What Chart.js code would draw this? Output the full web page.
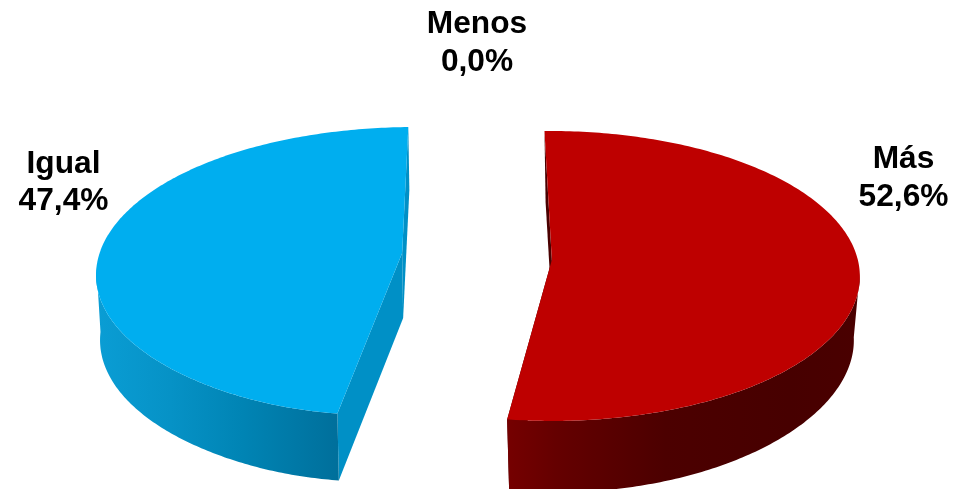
<!DOCTYPE html>
<html>
<head>
<meta charset="utf-8">
<style>
html,body{margin:0;padding:0;background:#fff;}
#wrap{width:965px;height:489px;}
canvas{display:block;}
</style>
<script src="https://cdn.jsdelivr.net/npm/chart.js@4"></script>
</head>
<body>
<div id="wrap"><canvas id="c" width="965" height="489"></canvas></div>
<script>
const categories = ['Más', 'Menos', 'Igual'];
const values = [52.6, 0.0, 47.4];
const topColors = ['#be0000', '#c8c8c8', '#00aeef'];
const labelAnchors = [[903.5, 168], [477, 33], [63.5, 172.5]];

/* Perspective view of each slice: top face, then bottom face of the wall */
const views = [
  { rx:308, ry:145, y0:16, s:1, w:0, e:-1, rx2:301, ry2:145, p2:.05, dy2:80, apexDy:65,
    wall:'#4a0000', rim:[[0,'#760000'],[.15,'#640000'],[.45,'#4c0000'],[.8,'#470000'],[1,'#4a0000']], rimX:[505,860] },
  null,
  { rx:306, ry:144, y0:18, s:-8.5, w:-8, e:-5, rx2:303, ry2:146, p2:0, dy2:83, apexDy:65,
    wall:'#0090c6', rim:[[0,'#0a9dd4'],[.3,'#0692c6'],[.6,'#0084b4'],[1,'#006f9b']], rimX:[98,339] }
];

function apex(arc) {
  const mid = (arc.startAngle + arc.endAngle) / 2;
  const off = arc.options.offset;
  return [arc.x + off * Math.cos(mid), arc.y + off * Math.sin(mid) * 0.72];
}

function project(arc, view, angle, depth) {
  const [ax, ay] = apex(arc);
  const u = Math.cos(angle), v = Math.sin(angle);
  const skew = view.s * v + view.w * Math.pow(v, 9) + view.e * Math.pow(v, 8);
  if (!depth) return [ax + view.rx * u + skew, ay + view.y0 + view.ry * v];
  return [ax + 1 + view.rx2 * u + skew,
          ay + view.dy2 + view.ry2 * v / (1 - view.p2 * v)];
}

function angles(arc) {
  const list = [], n = 240;
  for (let i = 0; i <= n; i++) list.push(arc.startAngle + (arc.endAngle - arc.startAngle) * i / n);
  return list;
}

function fillPoly(ctx, pts, fill) {
  ctx.beginPath();
  pts.forEach((p, i) => i ? ctx.lineTo(p[0], p[1]) : ctx.moveTo(p[0], p[1]));
  ctx.closePath();
  ctx.fillStyle = fill;
  ctx.fill();
}

const pie3d = {
  id: 'pie3d',
  beforeDatasetDraw(chart) {
    const ctx = chart.ctx;
    const meta = chart.getDatasetMeta(0);
    meta.data.forEach((arc, i) => {
      const view = views[i];
      if (!view || arc.circumference === 0) return;
      const list = angles(arc);
      const top = list.map(a => project(arc, view, a, 0));
      const bot = list.map(a => project(arc, view, a, 1));
      const apexT = apex(arc);
      const apexB = [apexT[0] + 1, apexT[1] + view.apexDy];
      const n = top.length - 1;
      const ends = [[top[0], bot[0]], [top[n], bot[n]]]
        .sort((a, b) => a[0][1] - b[0][1]);
      ends.forEach(([t, b]) => fillPoly(ctx, [t, apexT, apexB, b], view.wall));
      const g = ctx.createLinearGradient(view.rimX[0], 0, view.rimX[1], 0);
      view.rim.forEach(([o, col]) => g.addColorStop(o, col));
      const near = list.map((a, k) => k).filter(k => Math.sin(list[k]) > -0.03);
      const rimTop = near.map(k => top[k]), rimBot = near.map(k => bot[k]);
      fillPoly(ctx, rimTop.concat(rimBot.reverse()), g);
      fillPoly(ctx, [apexT].concat(top), arc.options.backgroundColor);
    });
    return false;
  },
  afterDatasetsDraw(chart) {
    const ctx = chart.ctx;
    ctx.save();
    ctx.fillStyle = '#000';
    ctx.font = 'bold 31.7px "Liberation Sans", Arial, sans-serif';
    ctx.textAlign = 'center';
    ctx.textBaseline = 'alphabetic';
    categories.forEach((name, i) => {
      const [x, y] = labelAnchors[i];
      ctx.fillText(name, x, y);
      ctx.fillText(values[i].toFixed(1).replace('.', ',') + '%', x, y + 37.5);
    });
    ctx.restore();
  }
};

new Chart(document.getElementById('c'), {
  type: 'pie',
  data: {
    labels: categories,
    datasets: [{ data: values, backgroundColor: topColors, borderWidth: 0, offset: 75 }]
  },
  options: {
    responsive: false,
    animation: false,
    rotation: -1,
    layout: { padding: { left: 0, right: 11, top: 24, bottom: 0 } },
    plugins: { legend: { display: false }, tooltip: { enabled: false }, title: { display: false } }
  },
  plugins: [pie3d]
});
</script>
</body>
</html>
